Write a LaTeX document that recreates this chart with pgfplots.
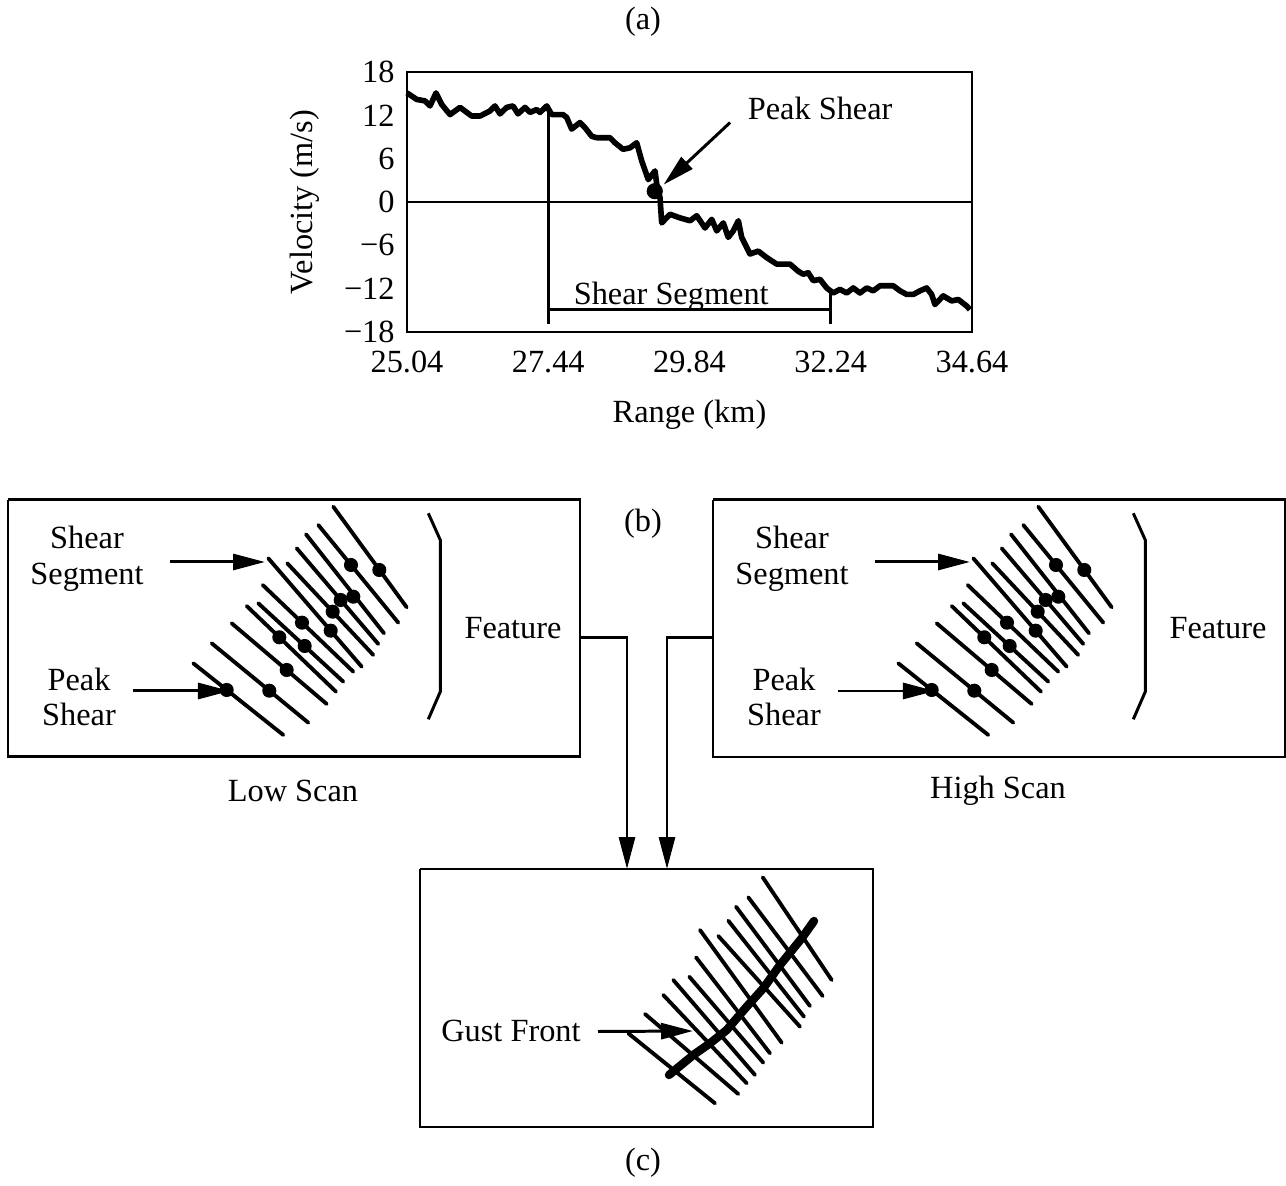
\documentclass[border=0pt]{standalone}
\usepackage{fontspec}
\setmainfont{Liberation Serif}
\usepackage{pgfplots}
\pgfplotsset{compat=1.18}
\usepackage{pgfplotstable}
\usetikzlibrary{arrows.meta}

\newcommand\figfont{\fontsize{9.2}{10.2}\selectfont}
\tikzset{
  arr/.style={line width=0.85pt, -{Triangle[length=3.2mm,width=1.6mm]}},
  thinline/.style={line width=0.85pt},
}

% velocity profile (panel a)
\pgfplotstableread{
x y
25.040 15.1
25.205 14.2
25.346 14.0
25.431 13.3
25.533 15.1
25.630 13.5
25.771 12.1
25.941 13.1
26.139 11.9
26.280 11.9
26.450 12.6
26.535 13.3
26.620 12.2
26.734 13.1
26.841 13.3
26.926 12.2
27.045 13.1
27.130 12.4
27.244 12.8
27.300 12.4
27.414 13.3
27.499 12.1
27.691 12.1
27.754 11.7
27.838 10.1
27.979 11.0
28.064 10.3
28.178 9.1
28.263 8.9
28.489 8.9
28.574 8.2
28.710 7.3
28.829 7.5
28.943 8.2
29.028 5.7
29.140 3.1
29.254 4.3
29.283 2.5
29.339 0.6
29.368 -2.9
29.509 -1.7
29.679 -2.2
29.850 -2.6
29.963 -1.9
30.104 -3.6
30.218 -2.4
30.303 -4.0
30.415 -2.9
30.499 -4.9
30.584 -4.0
30.670 -2.6
30.727 -4.9
30.868 -7.2
31.009 -6.8
31.152 -7.7
31.322 -8.6
31.548 -8.6
31.689 -9.6
31.773 -10.0
31.858 -9.8
31.943 -10.9
32.057 -10.7
32.171 -11.9
32.283 -12.6
32.397 -12.1
32.511 -12.6
32.623 -11.9
32.737 -12.6
32.851 -11.9
32.963 -12.3
33.077 -11.6
33.303 -11.6
33.417 -12.3
33.530 -12.8
33.643 -12.8
33.757 -12.3
33.870 -11.9
33.955 -12.8
34.011 -14.2
34.152 -13.0
34.295 -13.7
34.407 -13.5
34.550 -14.4
34.606 -14.9
}\velocity

% radials of one scan panel, box-local pixels
\pgfplotstableread{
x y
325.3 6.7
398.7 107.3
nan nan
310.3 25
390.3 122.7
nan nan
298 34.3
376 133.3
nan nan
288.7 48.3
370.3 144
nan nan
279.3 63.3
365.3 155
nan nan
260.3 58.3
353.7 166.7
nan nan
254.7 85
345.3 171.7
nan nan
250.3 103.3
335.3 181.7
nan nan
238.7 106
328 191.7
nan nan
223.7 123.3
318.7 204
nan nan
203.7 143.3
300.3 222.7
nan nan
185.3 163.3
275.3 235
}\radials

\pgfplotstableread{
x y
371.3 70
343 65
345.3 96.7
332.7 100
324.7 111.7
322.7 130.7
294 122.7
296.7 146
271.3 137.3
278.7 170
261.3 190.7
218.7 190
}\peaks

\pgfplotstableread{
x y
420.3 13.3
432.3 40
432.3 191.7
420.3 219.3
}\bracket

% merged feature (panel c), page pixels
\pgfplotstableread{
x y
762.7 877.3
831.7 980
nan nan
748.3 897.3
822.7 996
nan nan
736 906.7
810 1006
nan nan
728.3 920.7
804 1016.7
nan nan
718.3 936
800 1026.7
nan nan
700 930
781.7 1042.7
nan nan
696 957.3
770 1053.3
nan nan
689.3 976.7
763.3 1062.7
nan nan
673.3 980
755 1075
nan nan
663.3 995
746.7 1083.3
nan nan
645 1014
738.3 1094
nan nan
628.3 1033.3
715 1103.3
}\gustradials

\pgfplotstableread{
x y
814 921
801.7 938.3
780 965
763.3 988.3
746.7 1006.7
726.7 1030
710 1043.3
693.3 1055
669 1075
}\gustfront

\newcommand\scanpanel[1]{%
  \addplot[thinline] coordinates {(0,0) (572,0) (572,257) (0,257) (0,0)};
  \addplot[line width=1.1pt, line cap=round, unbounded coords=jump] table {\radials};
  \addplot[only marks, mark=*, mark size=1.8pt] table {\peaks};
  \addplot[thinline] table {\bracket};
  \addplot[arr] coordinates {(162,62) (257,62)};
  \addplot[arr] coordinates {(125,191) (222,191)};
  \node[align=center] at (axis cs:79,59) {Shear\\Segment};
  \node[align=center] at (axis cs:71,197) {Peak\\Shear};
  \node at (axis cs:505,128) {Feature};
  \node at (axis cs:285,291) {#1};
}

\pgfplotsset{
  panel/.style={scale only axis, width=57.2mm, height=25.7mm,
    xmin=0, xmax=572, ymin=0, ymax=257, y dir=reverse,
    hide axis, clip=false, anchor=south west},
}

\begin{document}
\begin{tikzpicture}[font=\figfont]
% page-wide canvas in pixels of the reference
\begin{axis}[name=canvas, at={(0,0)}, anchor=south west, scale only axis,
    width=128.6mm, height=118.6mm, xmin=0, xmax=1286, ymin=0, ymax=1186,
    y dir=reverse, hide axis, clip=false]
  \addplot[draw=none] coordinates {(0,0) (1286,1186)};
  \addplot[thinline] coordinates {(420,869) (873,869) (873,1127) (420,1127) (420,869)};
  \addplot[line width=1.1pt, line cap=round, unbounded coords=jump] table {\gustradials};
  \addplot[line width=2.4pt, line cap=round, line join=round] table {\gustfront};
  \addplot[arr] coordinates {(598,1031.5) (693,1031)};
  \addplot[arr] coordinates {(580,637) (627,637) (627,869)};
  \addplot[arr] coordinates {(713,637) (667,637) (667,869)};
  \node at (axis cs:511,1031) {Gust Front};
  \node at (axis cs:643,22) {(a)};
  \node at (axis cs:643,524) {(b)};
  \node at (axis cs:643,1163) {(c)};
\end{axis}

% (a) velocity along one radial
\begin{axis}[at={(40.7mm,85.4mm)}, anchor=south west, scale only axis,
    width=56.5mm, height=26mm,
    xmin=25.04, xmax=34.64, ymin=-18, ymax=18,
    xtick={25.04,27.44,29.84,32.24,34.64},
    xticklabels={25.04,27.44,29.84,32.24,34.64},
    ytick={-18,-12,-6,0,6,12,18},
    yticklabels={−18,−12,−6,0,6,12,18},
    tick style={draw=none},
    ticklabel style={font=\figfont},
    xticklabel style={yshift=-0.7mm},
    axis line style={line width=0.8pt},
    xlabel={Range (km)}, ylabel={Velocity (m/s)},
    xlabel style={at={(axis description cs:0.5,-0.319)}, anchor=center},
    ylabel style={at={(axis description cs:-0.1805,0.5)}, anchor=center},
    clip=false]
  \addplot[line width=0.55pt] coordinates {(25.04,0) (34.64,0)};
  \addplot[line width=1.6pt, line join=round] table {\velocity};
  \addplot[thinline] coordinates {(27.44,13.4) (27.44,-16.9)};
  \addplot[thinline] coordinates {(27.44,-14.9) (32.24,-14.9)};
  \addplot[thinline] coordinates {(32.24,-12.4) (32.24,-16.9)};
  \addplot[only marks, mark=*, mark size=2.1pt] coordinates {(29.25,1.5)};
  \addplot[arr] coordinates {(30.53,11.0) (29.40,2.4)};
  \node at (axis cs:32.06,13.0) {Peak Shear};
  \node[anchor=base] at (axis cs:29.53,-14.2) {Shear Segment};
\end{axis}

\begin{axis}[panel, at={(0.8mm,42.9mm)}]
  \scanpanel{Low Scan}
\end{axis}
\begin{axis}[panel, at={(71.3mm,42.9mm)}]
  \scanpanel{High Scan}
\end{axis}
\pgfresetboundingbox
\useasboundingbox (0,0) rectangle (128.6mm,118.6mm);
\end{tikzpicture}
\end{document}
